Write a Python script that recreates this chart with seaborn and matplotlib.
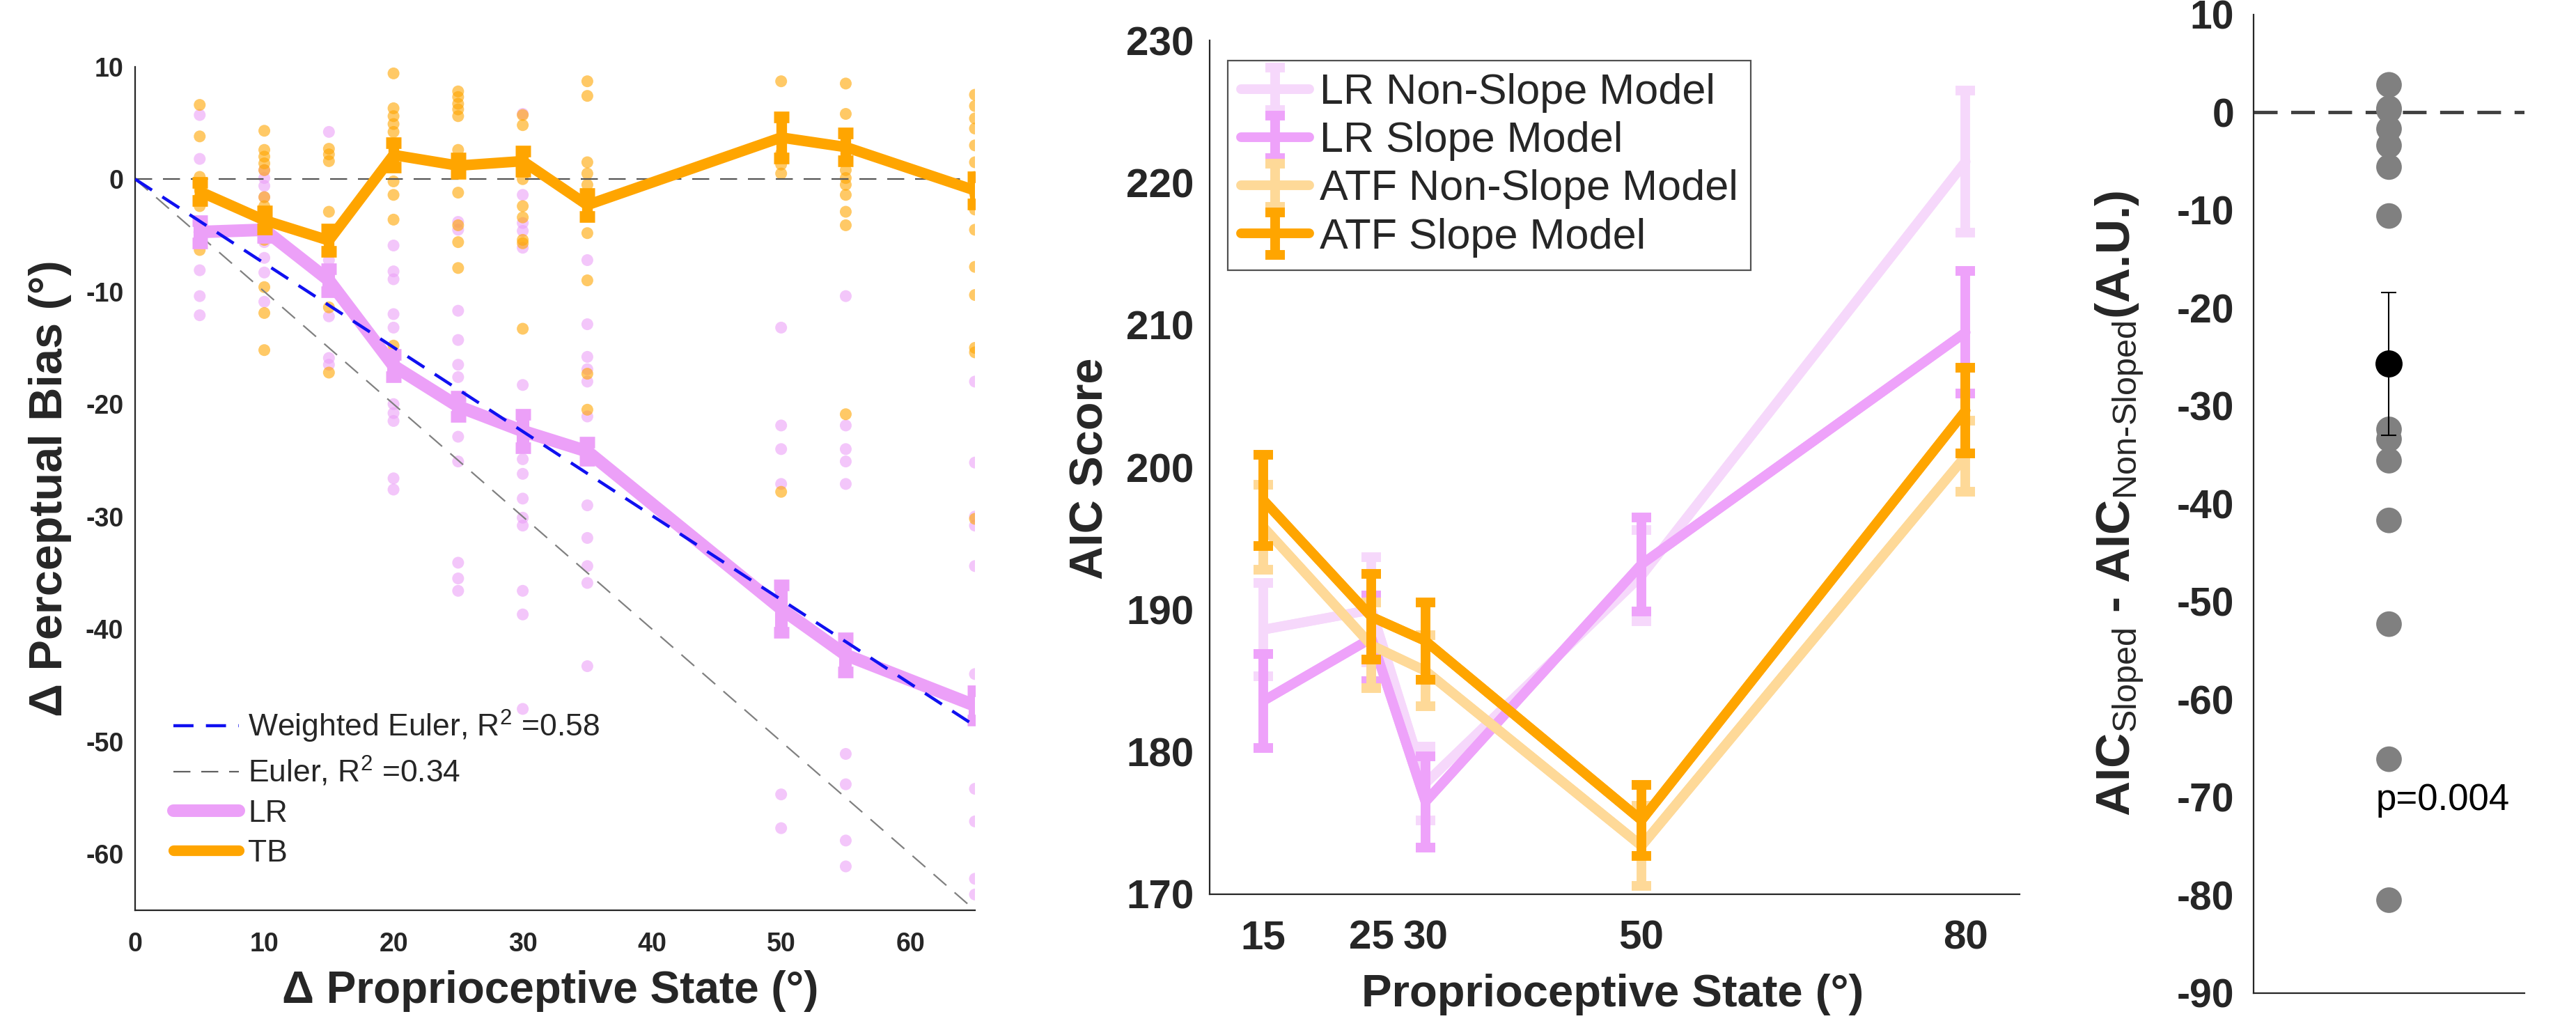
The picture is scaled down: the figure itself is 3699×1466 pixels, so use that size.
import numpy as np
import pandas as pd
import matplotlib
matplotlib.use("Agg")
import matplotlib.pyplot as plt
from matplotlib.lines import Line2D
import seaborn as sns

# ---------------- data: panel 1 ----------------
state_x = [5, 10, 15, 20, 25, 30, 35, 50, 55, 65]
lr_mean = [-4.7, -4.5, -9.0, -16.6, -20.2, -22.4, -24.2, -38.2, -42.3, -46.8]
lr_sem = [1.0, 0.7, 1.0, 1.0, 0.9, 1.5, 0.8, 2.1, 1.5, 1.3]
tb_mean = [-1.1, -3.65, -5.45, 2.15, 1.2, 1.6, -2.3, 3.7, 2.85, -1.0]
tb_sem = [0.8, 0.8, 1.0, 1.1, 0.7, 0.9, 1.0, 1.8, 1.25, 1.2]

lr_points = [
    [5.7, 1.8, -4.0, -5.0, -5.5, -8.1, -10.4, -12.1],
    [0.8, 0.1, -0.6, -1.6, -5.6, -7.0, -8.3, -10.9],
    [4.2, -7.2, -9.5, -12.2, -15.9, -16.5],
    [-5.9, -8.2, -8.9, -12.0, -13.2, -20.0, -20.8, -21.5, -26.6, -27.6],
    [-3.8, -4.5, -11.7, -14.3, -16.5, -17.6, -20.0, -22.9, -25.1, -34.1, -35.5, -36.6],
    [5.8, -1.4, -3.9, -4.6, -6.1, -18.3, -24.9, -26.2, -28.4, -30.1, -30.8, -36.6, -38.7, -47.1],
    [-7.2, -12.9, -15.8, -16.9, -18.0, -21.1, -29.0, -31.9, -34.4, -35.9, -43.3],
    [-13.2, -21.9, -24.0, -27.1, -38.0, -54.7, -57.7],
    [-10.4, -21.9, -24.0, -25.1, -27.1, -51.1, -53.8, -58.8, -61.1],
    [-18.0, -25.2, -30.0, -30.8, -34.4, -44.0, -54.2, -57.1, -62.2, -63.6],
]
tb_points = [
    [6.6, 3.8, 0.2, -0.8, -1.6, -2.4, -6.3],
    [4.3, 2.6, 2.0, 1.4, 0.8, -1.6, -2.4, -5.4, -9.6, -11.9, -15.2],
    [2.7, 2.2, 1.6, -2.9, -11.4, -17.2],
    [9.4, 6.3, 5.6, 4.9, 4.2, -0.2, -1.4, -3.6, -14.8],
    [7.8, 7.3, 6.7, 6.2, 5.6, 2.6, -1.2, -4.1, -5.6, -7.9],
    [5.7, 4.8, 0.0, -2.4, -3.4, -5.4, -5.7, -13.3],
    [8.7, 7.4, 1.5, 0.5, -0.5, -4.8, -9.0, -17.3, -20.5],
    [8.7, 2.3, 1.3, 0.5, -27.8],
    [8.5, 5.8, 1.7, 0.8, 0.1, -0.5, -1.4, -2.9, -4.1, -20.9],
    [7.5, 6.5, 5.4, 4.5, 3.0, 1.5, 0.2, -1.3, -2.7, -4.5, -7.8, -10.3, -15.0, -15.4, -30.2],
]
weighted_euler_x = [0, 65]
weighted_euler_y = [0, -48.6]
euler_x = [0, 65]
euler_y = [0, -65]
p1_labels = ["Weighted Euler, R$^{2}$ =0.58", "Euler, R$^{2}$ =0.34", "LR", "TB"]

# ---------------- data: panel 2 ----------------
aic_x = [15, 25, 30, 50, 80]
lr_nonslope = [188.6, 190.0, 177.8, 192.4, 221.5]
lr_nonslope_err = [3.3, 3.7, 2.6, 3.2, 5.0]
lr_slope = [183.6, 188.0, 176.5, 193.2, 209.5]
lr_slope_err = [3.3, 3.0, 3.2, 3.3, 4.3]
atf_nonslope = [195.8, 187.5, 185.7, 173.4, 200.8]
atf_nonslope_err = [3.0, 3.0, 2.5, 2.8, 2.5]
atf_slope = [197.7, 189.5, 187.8, 175.2, 204.0]
atf_slope_err = [3.2, 3.0, 2.7, 2.5, 3.0]
p2_labels = ["LR Non-Slope Model", "LR Slope Model", "ATF Non-Slope Model", "ATF Slope Model"]

# ---------------- data: panel 3 ----------------
aic_diff = [2.8, 0.4, 0.2, -1.7, -3.4, -5.6, -10.6, -32.4, -33.4, -35.6, -41.7, -52.3, -66.1, -80.5]
aic_diff_mean = -25.7
aic_diff_sem = 7.3
p_text = "p=0.004"

# ---------------- style ----------------
sns.set_theme(style="white")
plt.rcParams["font.family"] = ["Liberation Sans", "DejaVu Sans"]
plt.rcParams["mathtext.fontset"] = "custom"
plt.rcParams["mathtext.rm"] = "Liberation Sans"
plt.rcParams["mathtext.bf"] = "Liberation Sans:bold"
plt.rcParams["mathtext.it"] = "Liberation Sans:italic"
plt.rcParams["axes.linewidth"] = 1.6
plt.rcParams["axes.unicode_minus"] = False

DARK = "#262626"
ORANGE = "#FFA500"
VIOLET = "#ECA0F8"

fig = plt.figure(figsize=(36.99, 14.66), dpi=100)
ax1 = fig.add_axes([0.05245, 0.10846, 0.32603, 0.82626])
ax2 = fig.add_axes([0.46951, 0.12415, 0.31449, 0.83601])
ax3 = fig.add_axes([0.87483, 0.02729, 0.10516, 0.95866])

for ax in (ax1, ax2, ax3):
    for s in ("top", "right"):
        ax.spines[s].set_visible(False)
    for s in ("left", "bottom"):
        ax.spines[s].set_color(DARK)
        ax.spines[s].set_linewidth(1.6)
    ax.set_facecolor("white")

# ---------------- panel 1 ----------------
lr_df = pd.DataFrame([(x, v) for x, vals in zip(state_x, lr_points) for v in vals], columns=["x", "y"])
tb_df = pd.DataFrame([(x, v) for x, vals in zip(state_x, tb_points) for v in vals], columns=["x", "y"])
sns.scatterplot(data=lr_df, x="x", y="y", ax=ax1, color=VIOLET, alpha=0.6, s=150,
                edgecolor="none", zorder=1, legend=False)
sns.scatterplot(data=tb_df, x="x", y="y", ax=ax1, color=ORANGE, alpha=0.6, s=150,
                edgecolor="none", zorder=1, legend=False)
ax1.axhline(0, color="#555555", lw=1.6, dashes=(11, 7), zorder=2)
sns.lineplot(x=euler_x, y=euler_y, ax=ax1, color="#808080", lw=1.6, zorder=2)
ax1.lines[-1].set_dashes((11, 7))
sns.lineplot(x=state_x, y=lr_mean, ax=ax1, color=VIOLET, lw=13, zorder=3, sort=False)
ax1.errorbar(state_x, lr_mean, yerr=lr_sem, fmt="none", ecolor=VIOLET, elinewidth=13,
             capsize=8, capthick=12, zorder=3)
sns.lineplot(x=state_x, y=tb_mean, ax=ax1, color=ORANGE, lw=11, zorder=4, sort=False)
ax1.errorbar(state_x, tb_mean, yerr=tb_sem, fmt="none", ecolor=ORANGE, elinewidth=11,
             capsize=8, capthick=12, zorder=4)
sns.lineplot(x=weighted_euler_x, y=weighted_euler_y, ax=ax1, color="#1010F0", lw=3.2, zorder=5)
ax1.lines[-1].set_dashes((6.5, 4))

ax1.set_xlim(0, 65)
ax1.set_ylim(-65, 10)
ax1.set_xticks(range(0, 61, 10))
ax1.set_yticks(range(-60, 11, 10))
ax1.tick_params(direction="in", length=10, width=1.6, colors=DARK, labelsize=27)
ax1.tick_params(axis="x", pad=22)
ax1.tick_params(axis="y", pad=12)
for lab in ax1.get_xticklabels() + ax1.get_yticklabels():
    lab.set_fontweight("bold")
ax1.set_xlabel("\u0394 Proprioceptive State (\u00b0)", fontsize=46, fontweight="bold", color=DARK, va="center")
ax1.set_ylabel("\u0394 Perceptual Bias (\u00b0)", fontsize=48, fontweight="bold", color=DARK, va="center")
ax1.xaxis.set_label_coords(0.494, -0.096)
ax1.yaxis.set_label_coords(-0.101, 0.5)

h1 = [Line2D([], [], color="#1010F0", lw=3.2, dashes=(6.5, 4)),
      Line2D([], [], color="#606060", lw=1.6, dashes=(11, 7)),
      Line2D([], [], color=VIOLET, lw=13),
      Line2D([], [], color=ORANGE, lw=11)]
ax1.legend(h1, p1_labels, loc="lower left", bbox_to_anchor=(0.02, 0.025), frameon=False,
           fontsize=32, handlelength=2.1, handletextpad=0.3, labelspacing=0.35, borderpad=0.2)

# ---------------- panel 2 ----------------
series = [
    (lr_nonslope, lr_nonslope_err, "#F6D8FB", p2_labels[0]),
    (lr_slope, lr_slope_err, "#EEA2FA", p2_labels[1]),
    (atf_nonslope, atf_nonslope_err, "#FED998", p2_labels[2]),
    (atf_slope, atf_slope_err, ORANGE, p2_labels[3]),
]
for i, (vals, errs, col, lab) in enumerate(series):
    sns.lineplot(x=aic_x, y=vals, ax=ax2, color=col, lw=10, zorder=2 + i, sort=False)
    ax2.errorbar(aic_x, vals, yerr=errs, fmt="-", color=col, lw=10, elinewidth=10,
                 capsize=10, capthick=10, label=lab, zorder=2 + i)
ax2.set_xlim(10, 85)
ax2.set_ylim(170, 230)
ax2.set_xticks(aic_x)
ax2.set_yticks(range(170, 231, 10))
ax2.tick_params(direction="in", length=10, width=1.6, colors=DARK, labelsize=42)
ax2.tick_params(axis="x", pad=26)
ax2.tick_params(axis="y", pad=16)
for lab in ax2.get_xticklabels() + ax2.get_yticklabels():
    lab.set_fontweight("bold")
ax2.set_xlabel("Proprioceptive State (\u00b0)", fontsize=47, fontweight="bold", color=DARK, va="center")
ax2.set_ylabel("AIC Score", fontsize=48, fontweight="bold", color=DARK, va="center")
ax2.xaxis.set_label_coords(0.498, -0.1175)
ax2.yaxis.set_label_coords(-0.1467, 0.499)
leg2 = ax2.legend(loc="upper left", bbox_to_anchor=(0.023, 0.977), fontsize=44, frameon=True,
                  fancybox=False, edgecolor=DARK, handlelength=1.6, handletextpad=0.25,
                  labelspacing=0.2, borderpad=0.3, borderaxespad=0)
leg2.get_frame().set_linewidth(1.6)

# ---------------- panel 3 ----------------
diff_df = pd.DataFrame({"x": [1.0] * len(aic_diff), "y": aic_diff})
ax3.axhline(0, color="#404040", lw=3.5, dashes=(7, 4), zorder=1)
sns.scatterplot(data=diff_df, x="x", y="y", ax=ax3, color="#808080", s=700,
                edgecolor="none", zorder=2, legend=False)
ax3.errorbar([1.0], [aic_diff_mean], yerr=[aic_diff_sem], fmt="o", color="black",
             markersize=27, elinewidth=1.5, capsize=8, capthick=1.5, zorder=3)
ax3.text(0.905, -70.3, p_text, fontsize=38, va="center", ha="left", color="black")
ax3.set_xlim(0, 2)
ax3.set_ylim(-90, 10)
ax3.set_xticks([1])
ax3.set_xticklabels([""])
ax3.set_yticks(range(-90, 11, 10))
ax3.tick_params(direction="in", length=11, width=1.6, colors=DARK, labelsize=41)
ax3.tick_params(axis="y", pad=20)
for lab in ax3.get_yticklabels():
    lab.set_fontweight("bold")
ax3.set_xlabel("")
ax3.set_ylabel(r"AIC$_{\mathrm{Sloped}}$ - AIC$_{\mathrm{Non\text{-}Sloped}}$(A.U.)",
               fontsize=50, fontweight="bold", color=DARK, va="center")
ax3.yaxis.set_label_coords(-0.496, 0.5)

fig.savefig("out.png", dpi=100, facecolor="white")
